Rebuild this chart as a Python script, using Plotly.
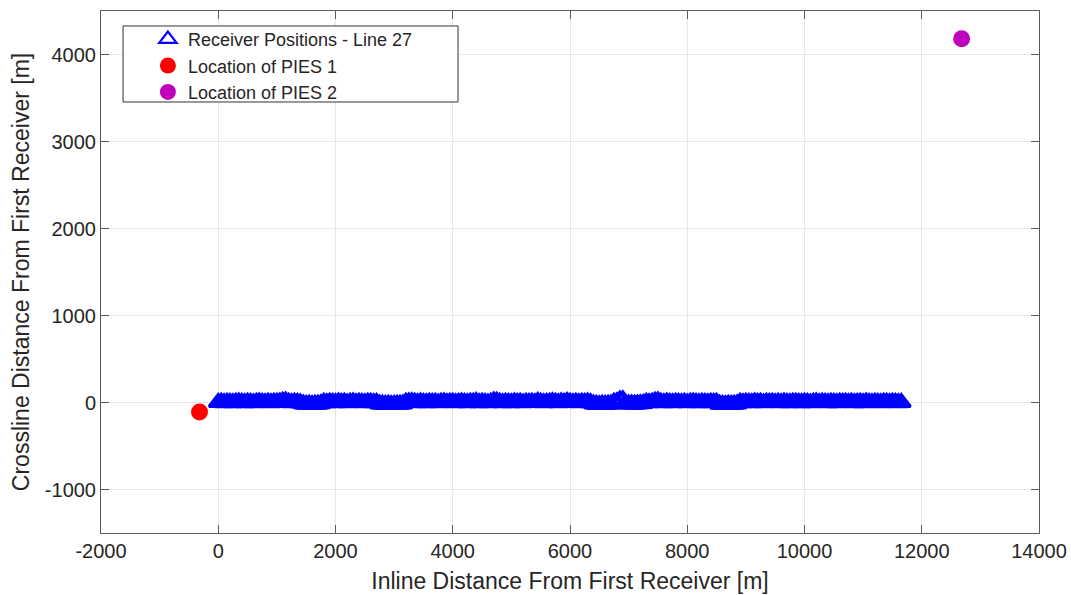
import plotly.graph_objects as go

# ---- data ----
receiver_inline_m = [
    0, 50, 100, 150, 200, 250, 300, 350, 400, 450,
    500, 550, 600, 650, 700, 750, 800, 850, 900, 950,
    1000, 1050, 1100, 1150, 1200, 1250, 1300, 1350, 1400, 1450,
    1500, 1550, 1600, 1650, 1700, 1750, 1800, 1850, 1900, 1950,
    2000, 2050, 2100, 2150, 2200, 2250, 2300, 2350, 2400, 2450,
    2500, 2550, 2600, 2650, 2700, 2750, 2800, 2850, 2900, 2950,
    3000, 3050, 3100, 3150, 3200, 3250, 3300, 3350, 3400, 3450,
    3500, 3550, 3600, 3650, 3700, 3750, 3800, 3850, 3900, 3950,
    4000, 4050, 4100, 4150, 4200, 4250, 4300, 4350, 4400, 4450,
    4500, 4550, 4600, 4650, 4700, 4750, 4800, 4850, 4900, 4950,
    5000, 5050, 5100, 5150, 5200, 5250, 5300, 5350, 5400, 5450,
    5500, 5550, 5600, 5650, 5700, 5750, 5800, 5850, 5900, 5950,
    6000, 6050, 6100, 6150, 6200, 6250, 6300, 6350, 6400, 6450,
    6500, 6550, 6600, 6650, 6700, 6750, 6800, 6850, 6900, 6950,
    7000, 7050, 7100, 7150, 7200, 7250, 7300, 7350, 7400, 7450,
    7500, 7550, 7600, 7650, 7700, 7750, 7800, 7850, 7900, 7950,
    8000, 8050, 8100, 8150, 8200, 8250, 8300, 8350, 8400, 8450,
    8500, 8550, 8600, 8650, 8700, 8750, 8800, 8850, 8900, 8950,
    9000, 9050, 9100, 9150, 9200, 9250, 9300, 9350, 9400, 9450,
    9500, 9550, 9600, 9650, 9700, 9750, 9800, 9850, 9900, 9950,
    10000, 10050, 10100, 10150, 10200, 10250, 10300, 10350, 10400, 10450,
    10500, 10550, 10600, 10650, 10700, 10750, 10800, 10850, 10900, 10950,
    11000, 11050, 11100, 11150, 11200, 11250, 11300, 11350, 11400, 11450,
    11500, 11550, 11600, 11650,
]

receiver_crossline_m = [
    0, 3, -2, 4, 1, -3, 2, 5, 0, -2, 3, 1, -4, 2, 6, 0, -1, 3, -2, 4, 2, 5,
    15, 18,
    4, -2, 3, 0, -5,
    -18, -22, -20, -24, -21, -19, -15,
    2, -3, 4, 1, -2, 5, 0, 3, -4, 2, 6, -1, 3, 0, -3, 4, 2, -2, 1,
    -17, -21, -23, -20, -24, -22, -19, -21, -16,
    2, 5,
    10,
    3, -2, 5, 1, -3, 4, 0, 2, -4, 3, 6, -1, 2, 4, -2, 1, 5, 0, -3, 2, 4,
    12,
    -2, 3, 0, -4, 2,
    17, 14,
    2, -3, 4, 0, -2, 5, 1, 3, -4, 2, 0, 4, -1,
    11,
    3, -2, 1, 4,
    10,
    2, -3, 5, 0,
    12,
    3, -1, 4, -3, 2, 0, 5, -2,
    -18, -22, -24, -20, -23, -21, -17,
    3, 8,
    28, 33,
    -14, -18, -16, -20, -17, -15, -12,
    2, -2, 4,
    14, 17,
    3, -2, 5, 0, -3, 4, 1, -1, 3, -4, 2, 5, 0, -2, 4, 1, -3, 2, 0, 3,
    -19, -22, -24, -21, -23, -20, -16,
    2, -3, 4, 0, -2, 5, 1, 3, -4, 2,
    0, 4, -1, 3, -2, 5, 0, -3, 2, 4,
    1, -2, 3, 0, -4, 2, 5, -1, 3, 0,
    -2, 4, 1, -3, 2, 0, 3, -1, 4, -2,
    0, 2, -3, 5, 1, -1, 3, 0, -2, 4,
    2, -1, 3, 0, -2, 1,
]

pies1_inline = [-320]
pies1_crossline = [-110]
pies2_inline = [12680]
pies2_crossline = [4180]

series_names = ["Receiver Positions - Line 27", "Location of PIES 1", "Location of PIES 2"]

x_ticks = [-2000, 0, 2000, 4000, 6000, 8000, 10000, 12000, 14000]
y_ticks = [-1000, 0, 1000, 2000, 3000, 4000]

# ---- figure ----
FONT = "Liberation Sans, Arial, Helvetica, sans-serif"
TXT = "#262626"
BLUE = "#0000ff"

fig = go.Figure()
# receivers (dense open triangles form the solid band)
fig.add_trace(go.Scatter(
    x=receiver_inline_m, y=receiver_crossline_m, mode="markers",
    name=series_names[0], showlegend=False, legendgroup="rx",
    marker=dict(symbol="triangle-up-open", size=16, color=BLUE,
                line=dict(width=3, color=BLUE)),
))
# legend entry for receivers (thin outline like the reference legend)
fig.add_trace(go.Scatter(
    x=[None], y=[None], mode="markers", name=series_names[0], legendgroup="rx",
    marker=dict(symbol="triangle-up-open", size=15, color=BLUE,
                line=dict(width=2.2, color=BLUE)),
))
fig.add_trace(go.Scatter(
    x=pies1_inline, y=pies1_crossline, mode="markers", name=series_names[1],
    marker=dict(symbol="circle", size=17, color="#ff0000", line=dict(width=0)),
))
fig.add_trace(go.Scatter(
    x=pies2_inline, y=pies2_crossline, mode="markers", name=series_names[2],
    marker=dict(symbol="circle", size=17, color="#bf00bf", line=dict(width=0)),
))

axis_common = dict(
    showgrid=True, gridcolor="#e6e6e6", gridwidth=1, automargin=False,
    zeroline=False, showline=True, linecolor="#5a5a5a", linewidth=1,
    mirror="allticks", ticks="inside", ticklen=8, tickcolor="#5a5a5a",
    tickfont=dict(family=FONT, size=20, color=TXT),
)

fig.update_xaxes(
    range=[-2000, 14000], tickvals=x_ticks, ticktext=[str(v) for v in x_ticks],
    title=dict(text="Inline Distance From First Receiver [m]",
               font=dict(family=FONT, size=23, color=TXT), standoff=11),
    **axis_common,
)
fig.update_yaxes(
    range=[-1500, 4500], tickvals=y_ticks, ticktext=[str(v) for v in y_ticks],
    title=dict(text="Crossline Distance From First Receiver [m]",
               font=dict(family=FONT, size=23, color=TXT), standoff=8),
    **axis_common,
)

fig.update_layout(
    width=1071, height=595,
    margin=dict(l=101, r=32, t=11, b=62),
    paper_bgcolor="white", plot_bgcolor="white",
    font=dict(family=FONT, color=TXT),
    showlegend=True,
    legend=dict(
        x=0.05, y=0.981, xanchor="left", yanchor="top",
        bgcolor="rgba(0,0,0,0)", borderwidth=0,
        font=dict(family=FONT, size=18, color=TXT),
        tracegroupgap=0, itemsizing="trace",
    ),
    shapes=[dict(
        type="rect", xref="paper", yref="paper",
        x0=0.0235, x1=0.3806, y0=0.8257, y1=0.9713,
        line=dict(color="#333333", width=1), fillcolor="white", layer="above",
    )],
)

fig.write_html("out.html")
